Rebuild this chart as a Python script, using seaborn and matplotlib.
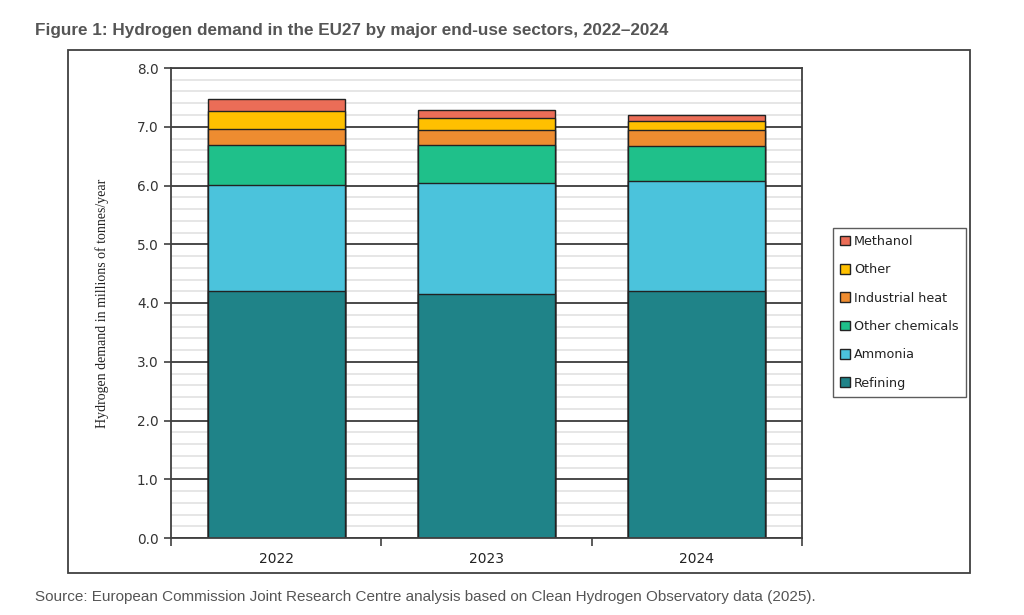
import numpy as np
import pandas as pd
import matplotlib
matplotlib.use("Agg")
import matplotlib.pyplot as plt
from matplotlib.patches import Rectangle, Patch
from matplotlib.ticker import MultipleLocator, FixedLocator
import seaborn as sns

years = ["2022", "2023", "2024"]
sectors = ["Refining", "Ammonia", "Other chemicals", "Industrial heat", "Other", "Methanol"]
refining = [4.20, 4.15, 4.20]
ammonia = [1.81, 1.89, 1.88]
other_chemicals = [0.68, 0.65, 0.59]
industrial_heat = [0.27, 0.25, 0.27]
other = [0.30, 0.21, 0.15]
methanol = [0.21, 0.14, 0.11]
colors = ["#1f8388", "#4bc3dc", "#1fc08a", "#ee8c30", "#ffc000", "#eb6d57"]

values = [refining, ammonia, other_chemicals, industrial_heat, other, methanol]
rows = []
for s, vals in zip(sectors, values):
    for y, v in zip(years, vals):
        rows.append({"year": y, "sector": s, "value": v})
df = pd.DataFrame(rows)
df["cum"] = df.groupby("year")["value"].cumsum()

sns.set_theme(style="white")
plt.rcParams["font.family"] = ["DejaVu Sans"]

fig = plt.figure(figsize=(10.24, 6.15), dpi=100)
ax = fig.add_axes([171/1024, (615-538)/615, (802-171)/1024, (538-68)/615])

# outer chart box
fig.patches.append(Rectangle((68/1024, (615-573)/615), (970-68)/1024, (573-50)/615,
                             transform=fig.transFigure, fill=False, edgecolor="#404040",
                             linewidth=1.3, zorder=0))

# grid
ax.set_ylim(0, 8)
ax.set_xlim(-0.5, 2.5)
ax.yaxis.set_major_locator(MultipleLocator(1.0))
ax.yaxis.set_minor_locator(MultipleLocator(0.2))
ax.grid(axis="y", which="minor", color="#e4e4e4", linewidth=1.3, zorder=0)
ax.grid(axis="y", which="major", color="#3c3c3c", linewidth=1.3, zorder=0.5)
ax.set_axisbelow(True)

# stacked bars drawn as cumulative totals, top layer first
for s, c in reversed(list(zip(sectors, colors))):
    sub = df[df["sector"] == s]
    sns.barplot(data=sub, x="year", y="cum", order=years, color=c, width=0.65,
                edgecolor="#222222", linewidth=1.0, saturation=1, ax=ax, zorder=2)

ax.set_xlim(-0.5, 2.5)
ax.set_ylim(0, 8)
ax.set_xlabel("")
ax.set_ylabel("Hydrogen demand in millions of tonnes/year", family="Liberation Serif",
              fontsize=10, color="#222222", labelpad=20)
ax.set_yticks(np.arange(0, 8.01, 1.0))
ax.set_yticklabels([f"{v:.1f}" for v in np.arange(0, 8.01, 1.0)], fontsize=9.8, color="#333333")
ax.set_xticks(range(3))
ax.set_xticklabels(years, fontsize=10, color="#222222")
ax.xaxis.set_minor_locator(FixedLocator([-0.5, 0.5, 1.5, 2.5]))
ax.tick_params(axis="x", which="major", length=0, pad=10)
ax.tick_params(axis="x", which="minor", length=6, width=1.2, color="#404040", bottom=True)
ax.tick_params(axis="y", which="major", length=5, width=1.2, color="#404040", left=True, pad=4)
ax.tick_params(axis="y", which="minor", length=0)
for sp in ax.spines.values():
    sp.set_color("#404040")
    sp.set_linewidth(1.3)
    sp.set_visible(True)

# legend
handles = [Patch(facecolor=c, edgecolor="#222222", linewidth=1.0, label=s)
           for s, c in reversed(list(zip(sectors, colors)))]
leg = fig.legend(handles=handles, loc="upper left", bbox_to_anchor=(833/1024, (615-228)/615),
                 frameon=True, fancybox=False, edgecolor="#333333", fontsize=9.2,
                 handlelength=0.8, handleheight=0.8, handletextpad=0.3,
                 labelspacing=1.2, borderpad=0.55, borderaxespad=0)
leg.get_frame().set_linewidth(1.0)
for t in leg.get_texts():
    t.set_color("#222222")

fig.text(35/1024, 1 - 30/615, "Figure 1: Hydrogen demand in the EU27 by major end-use sectors, 2022\u20132024",
         fontsize=12.3, fontweight="bold", color="#555555", family="Liberation Sans", va="center")
fig.text(35/1024, 1 - 597/615,
         "Source: European Commission Joint Research Centre analysis based on Clean Hydrogen Observatory data (2025).",
         fontsize=11, color="#555555", family="Liberation Sans", va="center")

fig.savefig("out.png", dpi=100)
